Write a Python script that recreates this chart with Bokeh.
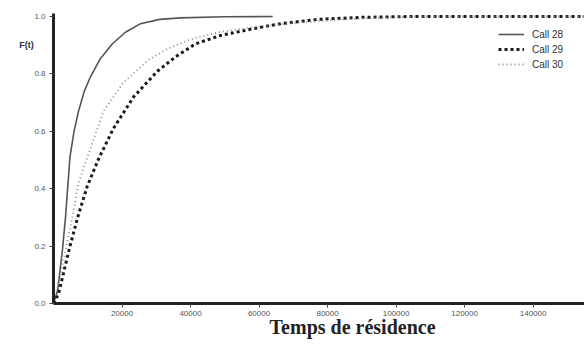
from bokeh.plotting import figure
from bokeh.models import FixedTicker, Range1d, Label, Legend, LegendItem, CustomJSTickFormatter
from bokeh.embed import file_html
from bokeh.resources import INLINE

# Data
t28 = [0, 1200, 2600, 3500, 4800, 6000, 7300, 9000, 10800, 13500, 17200, 21000, 25400,
       31000, 37000, 50000, 64000]
f28 = [0, 0.045, 0.185, 0.30, 0.51, 0.60, 0.67, 0.74, 0.79, 0.85, 0.905, 0.945, 0.975,
       0.99, 0.995, 0.999, 1.0]

t29 = [0, 1500, 2900, 4700, 7300, 9900, 13200, 17500, 23400, 30400, 35700, 41500,
       48800, 58500, 66400, 77200, 90000, 105000, 155000]
f29 = [0, 0.035, 0.105, 0.195, 0.31, 0.41, 0.505, 0.61, 0.72, 0.81, 0.86, 0.905,
       0.934, 0.958, 0.975, 0.99, 0.997, 1.0, 1.0]

t30 = [0, 1500, 3500, 5500, 7300, 10200, 14600, 20200, 27500, 33300, 40000, 48000,
       58000, 70000, 85000, 105000, 155000]
f30 = [0, 0.07, 0.185, 0.30, 0.42, 0.52, 0.67, 0.767, 0.847, 0.888, 0.92, 0.945,
       0.962, 0.977, 0.99, 1.0, 1.0]

x_ticks = [20000, 40000, 60000, 80000, 100000, 120000, 140000]
y_ticks = [0.0, 0.2, 0.4, 0.6, 0.8, 1.0]
series_names = ["Call 28", "Call 29", "Call 30"]

p = figure(width=584, height=350, output_backend="svg", toolbar_location=None,
           x_range=Range1d(-15470, 155000), y_range=Range1d(-0.1638, 1.0557),
           min_border=0, min_border_left=0, min_border_right=0,
           min_border_top=0, min_border_bottom=0)
p.outline_line_color = None
p.xgrid.visible = False
p.ygrid.visible = False

r28 = p.line(t28, f28, line_color="#555555", line_width=1.6)
r29 = p.line(t29, f29, line_color="#1a1a1a", line_width=3, line_dash="3 3")
r30 = p.line(t30, f30, line_color="#8a8a8a", line_width=1.8, line_dash="1 3")

legend = Legend(items=[LegendItem(label=series_names[0], renderers=[r28]),
                       LegendItem(label=series_names[1], renderers=[r29]),
                       LegendItem(label=series_names[2], renderers=[r30])],
                location=(498, 280), border_line_color=None, background_fill_alpha=0,
                label_text_font="Liberation Sans", label_text_font_size="10px",
                label_text_color="#333333", glyph_width=26, glyph_height=12,
                label_height=12, spacing=3, padding=2, margin=0, label_standoff=8)
p.add_layout(legend)

for ax in (p.xaxis[0], p.yaxis[0]):
    ax.fixed_location = 0
    ax.axis_line_width = 3
    ax.axis_line_color = "#222222"
    ax.major_tick_line_color = "#444444"
    ax.major_tick_out = 4
    ax.major_tick_in = 0
    ax.minor_tick_line_color = None
    ax.major_label_text_font = "Liberation Sans"
    ax.major_label_text_font_size = "8px"
    ax.major_label_text_color = "#555555"
    ax.major_label_standoff = 4

p.xaxis.bounds = (0, 155000)
p.yaxis.bounds = (0, 1.01)
p.xaxis.ticker = FixedTicker(ticks=x_ticks)
p.yaxis.ticker = FixedTicker(ticks=y_ticks)
p.xaxis.formatter = CustomJSTickFormatter(code="return tick.toFixed(0);")
p.yaxis.formatter = CustomJSTickFormatter(code="return tick.toFixed(1);")

p.add_layout(Label(x=-7900, y=0.902, text="F(t)", text_font="Liberation Sans",
                   text_font_size="9px", text_font_style="bold", text_color="#333333",
                   text_align="center", text_baseline="middle"))
p.add_layout(Label(x=87300, y=-0.0836, text="Temps de résidence",
                   text_font="Liberation Serif", text_font_size="20px",
                   text_font_style="bold", text_color="#222222",
                   text_align="center", text_baseline="middle"))

open("out.html", "w").write(file_html(p, INLINE))
